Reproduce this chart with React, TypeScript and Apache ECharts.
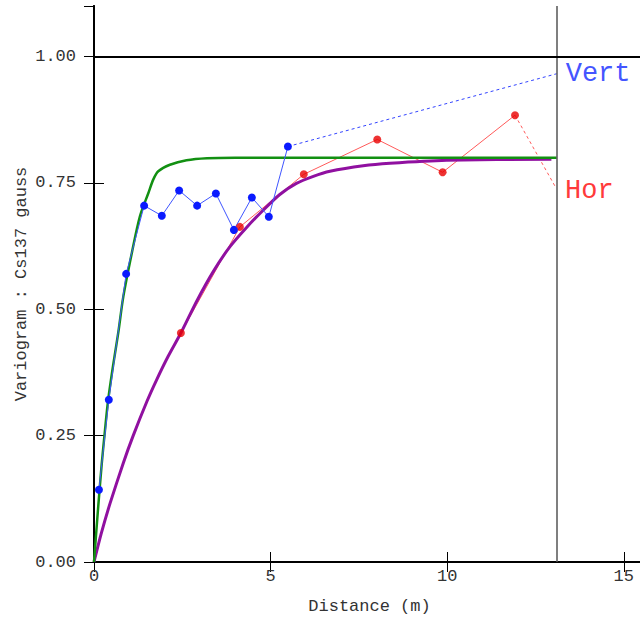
import React, { useEffect, useRef } from "react";
import * as echarts from "echarts";

// Experimental variogram, vertical direction
const vertDist = [0.14, 0.42, 0.91, 1.42, 1.92, 2.41, 2.92, 3.45, 3.96, 4.47, 4.95, 5.49];
const vertGamma = [0.143, 0.321, 0.57, 0.705, 0.685, 0.735, 0.705, 0.729, 0.657, 0.721, 0.683, 0.822];
// Experimental variogram, horizontal direction
const horDist = [2.46, 4.13, 5.94, 8.02, 9.87, 11.92];
const horGamma = [0.453, 0.663, 0.767, 0.836, 0.771, 0.884];
// Label anchor points (dashed leaders)
const vertLabelAt = [13.1, 0.966];
const horLabelAt = [13.08, 0.74];
// Model curves
const vertModelDist = [0, 0.12, 0.22, 0.31, 0.4, 0.55, 0.69, 0.83, 1.07, 1.3, 1.54, 1.68, 1.82, 2.15, 2.62, 3.2, 4, 6, 13.1];
const vertModelGamma = [0, 0.11, 0.195, 0.26, 0.32, 0.393, 0.455, 0.525, 0.611, 0.684, 0.73, 0.757, 0.773, 0.786, 0.795, 0.799, 0.8, 0.8, 0.8];
const horModelDist = [0, 0.2, 0.45, 0.83, 1.11, 1.5, 1.77, 2.1, 2.46, 2.9, 3.38, 3.85, 4.32, 4.79, 5.26, 5.73, 6.21, 6.68, 7.62, 8.38, 9.98, 12.95];
const horModelGamma = [0, 0.055, 0.115, 0.196, 0.25, 0.318, 0.36, 0.407, 0.453, 0.515, 0.575, 0.624, 0.662, 0.696, 0.727, 0.749, 0.763, 0.773, 0.784, 0.789, 0.795, 0.797];
// Axis settings
const xMax = 15.6;
const xInterval = 5;
const yMax = 1.1;
const yInterval = 0.25;
const maxLag = 13.1;
const sillRef = 1.0;

const FONT = "'Liberation Mono', 'DejaVu Sans Mono', monospace";
const zip = (a: number[], b: number[]) => a.map((v, i) => [v, b[i]]);

export default function App() {
  const ref = useRef<HTMLDivElement>(null);
  useEffect(() => {
    document.body.style.overflow = "hidden";
    const chart = echarts.init(ref.current!, null, { renderer: "svg" });
    const vert = zip(vertDist, vertGamma);
    const hor = zip(horDist, horGamma);
    const axisLine = { show: true, lineStyle: { color: "#000", width: 2 } };
    const tick = { show: true, inside: true, length: 10, lineStyle: { color: "#000", width: 1 } };
    chart.setOption({
      animation: false,
      backgroundColor: "#fff",
      grid: { left: 94, right: 15, top: 6, bottom: 55, outerBoundsMode: "none", containLabel: false },
      xAxis: [
        {
          type: "value", min: 0, max: xMax, interval: xInterval, position: "bottom",
          axisLine, axisTick: tick, splitLine: { show: false },
          axisLabel: { margin: 6, fontFamily: FONT, fontSize: 17, color: "#333", showMaxLabel: false },
          name: "Distance (m)", nameLocation: "middle", nameGap: 36, nameMoveOverlap: false,
          nameTextStyle: { fontFamily: FONT, fontSize: 17, color: "#333" },
        },
        {
          type: "value", min: 0, max: xMax, interval: xInterval, position: "top",
          axisLine, axisTick: tick, splitLine: { show: false }, axisLabel: { show: false },
        },
      ],
      yAxis: [
        {
          type: "value", min: 0, max: yMax, interval: yInterval, position: "left",
          axisLine, axisTick: tick, splitLine: { show: false },
          axisLabel: {
            margin: 18, fontFamily: FONT, fontSize: 17, color: "#333", showMaxLabel: false,
            formatter: (v: number) => v.toFixed(2),
          },
          name: "Variogram : Cs137 gauss", nameLocation: "middle", nameGap: 64, nameMoveOverlap: false,
          nameTextStyle: { fontFamily: FONT, fontSize: 17, color: "#333" },
        },
        {
          type: "value", min: 0, max: yMax, interval: yInterval, position: "right",
          axisLine, axisTick: tick, splitLine: { show: false }, axisLabel: { show: false },
        },
      ],
      series: [
        {
          type: "line", data: hor, showSymbol: false, z: 1,
          lineStyle: { color: "#ff5a5a", width: 1 },
        },
        {
          type: "line", data: [hor[hor.length - 1], horLabelAt], showSymbol: false, z: 1,
          lineStyle: { color: "#ff5a5a", width: 1, type: [3, 3] },
          endLabel: { show: true, formatter: "Hor", color: "#ff3a3a", fontFamily: FONT, fontSize: 27, distance: 9, offset: [0, 3] },
        },
        {
          type: "line", data: [vert[vert.length - 1], vertLabelAt], showSymbol: false, z: 1,
          lineStyle: { color: "#3344ff", width: 1, type: [3, 3] },
          endLabel: { show: true, formatter: "Vert", color: "#4455ff", fontFamily: FONT, fontSize: 27, distance: 9 },
        },
        {
          type: "line", data: zip(horModelDist, horModelGamma), showSymbol: false, smooth: 0.2, z: 2,
          lineStyle: { color: "#9010a0", width: 3 },
        },
        {
          type: "line", data: zip(vertModelDist, vertModelGamma), showSymbol: false, smooth: 0.3, z: 2,
          lineStyle: { color: "#129012", width: 2.5 },
          markLine: {
            silent: true, symbol: "none", label: { show: false },
            data: [
              { xAxis: maxLag, lineStyle: { color: "#555", width: 1.5, type: "solid" } },
              { yAxis: sillRef, lineStyle: { color: "#000", width: 2, type: "solid" } },
            ],
          },
        },
        {
          type: "scatter", data: hor, symbol: "circle", symbolSize: 8, z: 3,
          itemStyle: { color: "#e80000" },
        },
        {
          type: "line", data: vert, symbol: "circle", symbolSize: 8, showSymbol: true, z: 3,
          lineStyle: { color: "#3f55ff", width: 1 },
          itemStyle: { color: "#0a1aff" },
        },
      ],
    });
    return () => chart.dispose();
  }, []);
  return (
    <div
      ref={ref}
      style={{ position: "fixed", left: 0, top: 0, width: 660, height: 617, background: "#fff" }}
    />
  );
}
